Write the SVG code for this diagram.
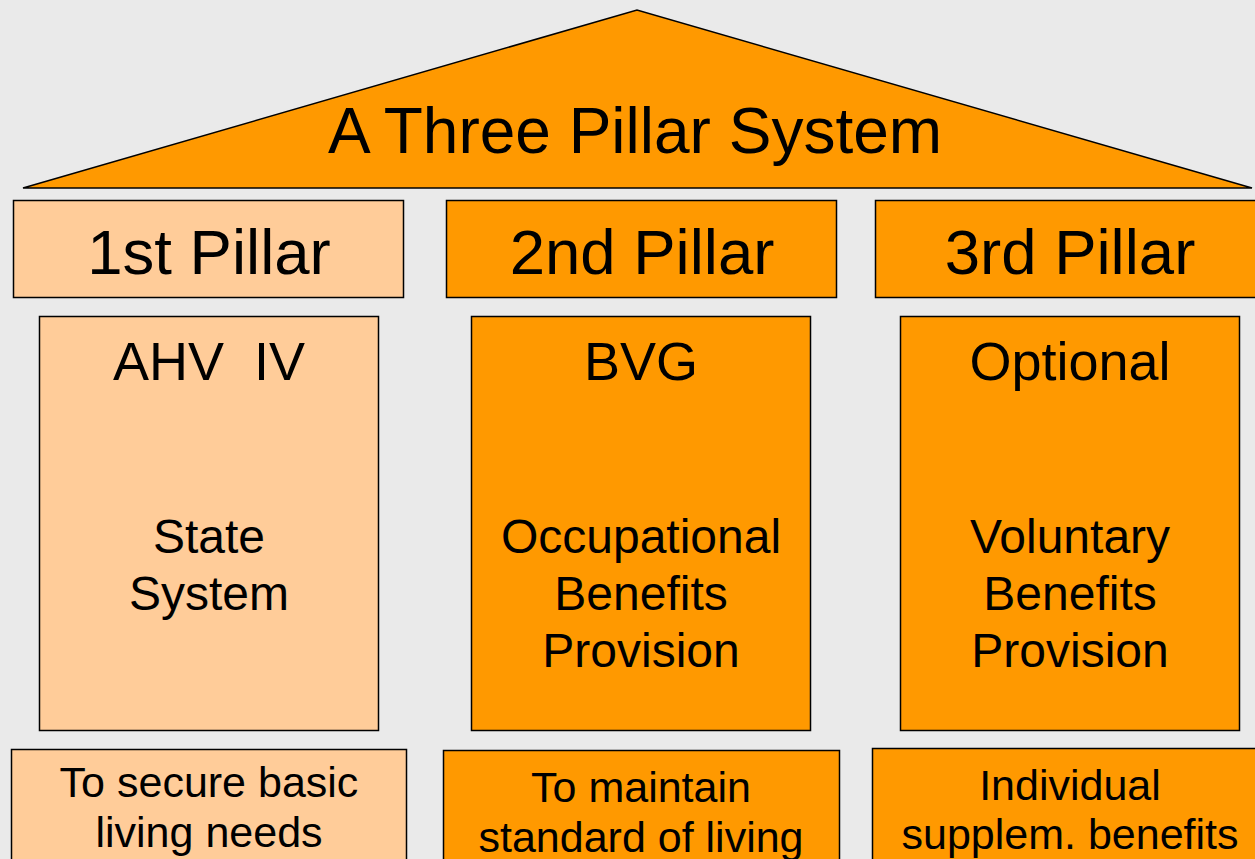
<svg xmlns="http://www.w3.org/2000/svg" width="1255" height="859" viewBox="0 0 1255 859">
<style>
.box{stroke:#000;stroke-width:1.5}
.light{fill:#FFCC99}
.orange{fill:#FF9900}
text{font-family:"Liberation Sans",Arial,sans-serif;fill:#000;text-anchor:middle}
.t1{font-size:64px}
.t2{font-size:63.5px}
.t5{font-size:54px}
.t3{font-size:48px}
.t4{font-size:43px}
</style>
<rect x="0" y="0" width="1255" height="859" fill="#EAEAEA"/>
<g id="roof">
<polygon class="box orange" points="23,188 637,10 1252,188"/>
<text class="t1" x="635" y="153">A Three Pillar System</text>
</g>
<g id="header1"><rect class="box light" x="13.5" y="200.5" width="390" height="97"/><text class="t2" x="209" y="274">1st Pillar</text></g>
<g id="header2"><rect class="box orange" x="446.5" y="200.5" width="390" height="97"/><text class="t2" x="642" y="274">2nd Pillar</text></g>
<g id="header3"><rect class="box orange" x="875.5" y="200.5" width="390" height="97"/><text class="t2" x="1070" y="274">3rd Pillar</text></g>
<g id="pillar1"><rect class="box light" x="39.5" y="316.5" width="339" height="414"/>
<text class="t5" x="209" y="380" xml:space="preserve">AHV  IV</text>
<text class="t3" x="209" y="553">State</text><text class="t3" x="209" y="610">System</text></g>
<g id="pillar2"><rect class="box orange" x="471.5" y="316.5" width="339" height="414"/>
<text class="t5" x="641" y="380">BVG</text>
<text class="t3" x="641" y="553">Occupational</text><text class="t3" x="641" y="610">Benefits</text><text class="t3" x="641" y="667">Provision</text></g>
<g id="pillar3"><rect class="box orange" x="900.5" y="316.5" width="339" height="414"/>
<text class="t5" x="1070" y="380">Optional</text>
<text class="t3" x="1070" y="553">Voluntary</text><text class="t3" x="1070" y="610">Benefits</text><text class="t3" x="1070" y="667">Provision</text></g>
<g id="goal1"><rect class="box light" x="11.5" y="749.5" width="395" height="130"/>
<text class="t4" x="209" y="797">To secure basic</text><text class="t4" x="209" y="847">living needs</text></g>
<g id="goal2"><rect class="box orange" x="443.5" y="750.5" width="396" height="130"/>
<text class="t4" x="641" y="802">To maintain</text><text class="t4" x="641" y="852">standard of living</text></g>
<g id="goal3"><rect class="box orange" x="872.5" y="748.5" width="396" height="130"/>
<text class="t4" x="1070" y="800">Individual</text><text class="t4" x="1070" y="849">supplem. benefits</text></g>
<g id="connectors"/>
</svg>
